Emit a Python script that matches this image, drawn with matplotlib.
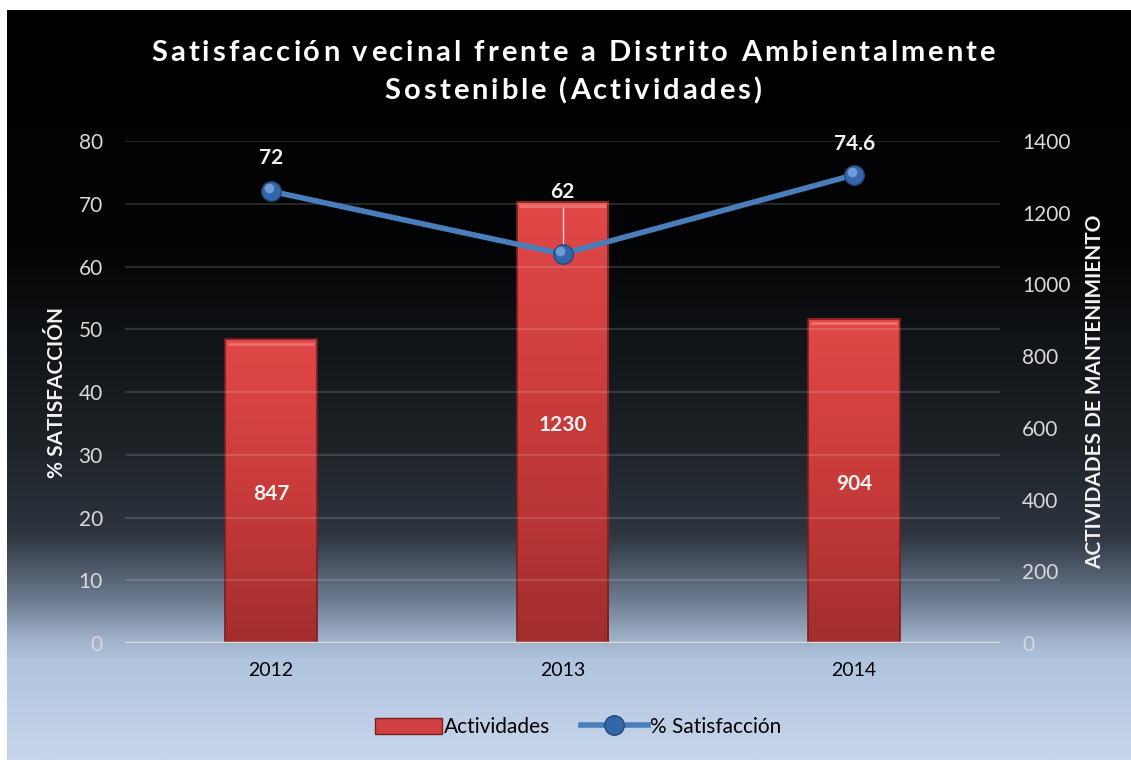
import numpy as np
import matplotlib.pyplot as plt
from matplotlib.colors import LinearSegmentedColormap
from matplotlib.lines import Line2D
from matplotlib.patches import Patch

years = ['2012', '2013', '2014']
actividades = [847, 1230, 904]
satisfaccion = [72, 62, 74.6]
sat_labels = ['72', '62', '74.6']
title_lines = ['Satisfacción vecinal frente a Distrito Ambientalmente',
               'Sostenible (Actividades)']

W, H = 1131, 760
FONT = 'Lato'
plt.rcParams['font.family'] = [FONT, 'DejaVu Sans']

fig = plt.figure(figsize=(W / 100, H / 100), dpi=100)
fig.patch.set_facecolor('white')
renderer = fig.canvas.get_renderer()


def text_width(s, **kw):
    t = fig.text(0, 0, s + 'l', **kw)
    w = t.get_window_extent(renderer).width
    t.remove()
    t = fig.text(0, 0, 'l', **kw)
    w -= t.get_window_extent(renderer).width
    t.remove()
    return w


def spaced_text(xc, yc, s, spacing, **kw):
    # letter-spaced text, centred at (xc, yc) in pixels
    total = text_width(s, **kw) + spacing * (len(s) - 1)
    x0 = xc - total / 2
    for i, ch in enumerate(s):
        if ch == ' ':
            continue
        xo = x0 + text_width(s[:i], **kw) + spacing * i if i else x0
        fig.text(xo / W, 1 - yc / H, ch, ha='left', va='center', **kw)


# background gradient (black top -> light steel blue bottom)
bg = fig.add_axes([7 / W, 0, 1 - 7 / W, 750 / H], zorder=-10)
stops = [(0.00, '#000000'), (0.32, '#030405'), (0.43, '#101316'),
         (0.59, '#1f242a'), (0.70, '#2e353f'), (0.715, '#38414d'),
         (0.79, '#6e7d92'), (0.84, '#9fb1c8'), (0.868, '#b0c4de'),
         (1.00, '#c7d6ea')]
cmap = LinearSegmentedColormap.from_list('bg', stops)
grad = np.linspace(0, 1, 512).reshape(-1, 1)
bg.imshow(grad, aspect='auto', cmap=cmap, extent=[0, 1, 1, 0])
bg.axis('off')

ax = fig.add_axes([125 / W, (H - 643) / H, 875 / W, 502 / H])
ax.patch.set_alpha(0)
x = np.arange(len(years))
ax.set_xlim(-0.5, 2.5)
ax.set_ylim(0, 1400)
ax2 = ax.twinx()

# bars with vertical gradient (secondary scale, drawn under the line)
bw = 0.315
bar_cmap = LinearSegmentedColormap.from_list('bar', ['#a32e2e', '#c83b3b', '#e14848'])
for xi, v in zip(x, actividades):
    ax.imshow(np.linspace(0, 1, 100).reshape(-1, 1), cmap=bar_cmap, origin='lower',
              aspect='auto', extent=[xi - bw / 2, xi + bw / 2, 0, v], zorder=2)
    ax.add_patch(plt.Rectangle((xi - bw / 2, 0), bw, v, fill=False,
                               edgecolor='#7a1e1e', lw=1.2, zorder=3))
    ax.plot([xi - bw / 2 + 0.01, xi + bw / 2 - 0.01], [v - 12, v - 12],
            color='#f07070', lw=2, zorder=3, solid_capstyle='butt')
    ax.text(xi, v / 2 - 8, str(v), ha='center', va='center', color='#f2f2f2',
            fontsize=15, fontweight='bold', zorder=4)

ax.yaxis.tick_right()
ax.yaxis.set_label_position('right')
ax.set_yticks(np.arange(0, 1401, 200))
ax.tick_params(axis='y', colors='#d9d9d9', labelsize=15, length=0, pad=16,
               left=False, labelleft=False, right=True, labelright=True)
ax.set_xticks(x)
ax.set_xticklabels(years)
ax.tick_params(axis='x', colors='black', labelsize=14, length=0, pad=14)
for s in ax.spines.values():
    s.set_visible(False)
ax.set_ylabel('ACTIVIDADES DE MANTENIMIENTO', color='#f2f2f2', fontsize=15,
              fontweight='bold', labelpad=10)

ax2.set_ylim(0, 80)
ax2.set_yticks(np.arange(0, 81, 10))
ax2.yaxis.tick_left()
ax2.yaxis.set_label_position('left')
ax2.tick_params(axis='y', colors='#d9d9d9', labelsize=15, length=0, pad=16,
                right=False, labelright=False, left=True, labelleft=True)
for s in ax2.spines.values():
    s.set_visible(False)
ax2.grid(axis='y', color='white', alpha=0.14, lw=1.5, zorder=0)
ax2.axhline(0, color='#dcdcdc', lw=2.5, zorder=5)
ax2.set_ylabel('% SATISFACCIÓN', color='#f2f2f2', fontsize=15,
               fontweight='bold', labelpad=8)

ax2.plot(x, satisfaccion, color='#4a7ebb', lw=4, zorder=6)
ax2.plot(x, satisfaccion, 'o', ms=14, mfc='#3366aa', mec='#24487a', mew=1, zorder=7)
ax2.plot(x - 0.008, np.array(satisfaccion) + 0.5, 'o', ms=7, mfc='#6f9ad6',
         mec='none', zorder=8)

offsets = [(0, 5.3), (0, 9.8), (0, 4.9)]
for xi, v, lab, (dx, dy) in zip(x, satisfaccion, sat_labels, offsets):
    ax2.text(xi + dx, v + dy, lab, ha='center', va='center', color='#f2f2f2',
             fontsize=15, fontweight='bold', zorder=9)
# leader line for 2013 label
ax2.plot([x[1], x[1]], [satisfaccion[1] + 1.6, satisfaccion[1] + 7.3],
         color='#f2f2f2', lw=1, alpha=0.8, zorder=6)

tkw = dict(color='white', fontsize=21, fontweight='bold')
spaced_text(573, 53, title_lines[0], 2.9, **tkw)
spaced_text(573, 91, title_lines[1], 2.9, **tkw)

handles = [Patch(facecolor='#d04040', edgecolor='#7a1e1e'),
           Line2D([0], [0], color='#4a7ebb', lw=4, marker='o', ms=14,
                  mfc='#3366aa', mec='#24487a')]
fig.legend(handles, ['Actividades', '% Satisfacción'], loc='center',
           bbox_to_anchor=(578 / W, 1 - 727 / H), ncol=2, frameon=False,
           fontsize=15, handlelength=3.2, handleheight=0.8, columnspacing=1.5,
           handletextpad=0.1)

fig.savefig('out.png', dpi=100)
